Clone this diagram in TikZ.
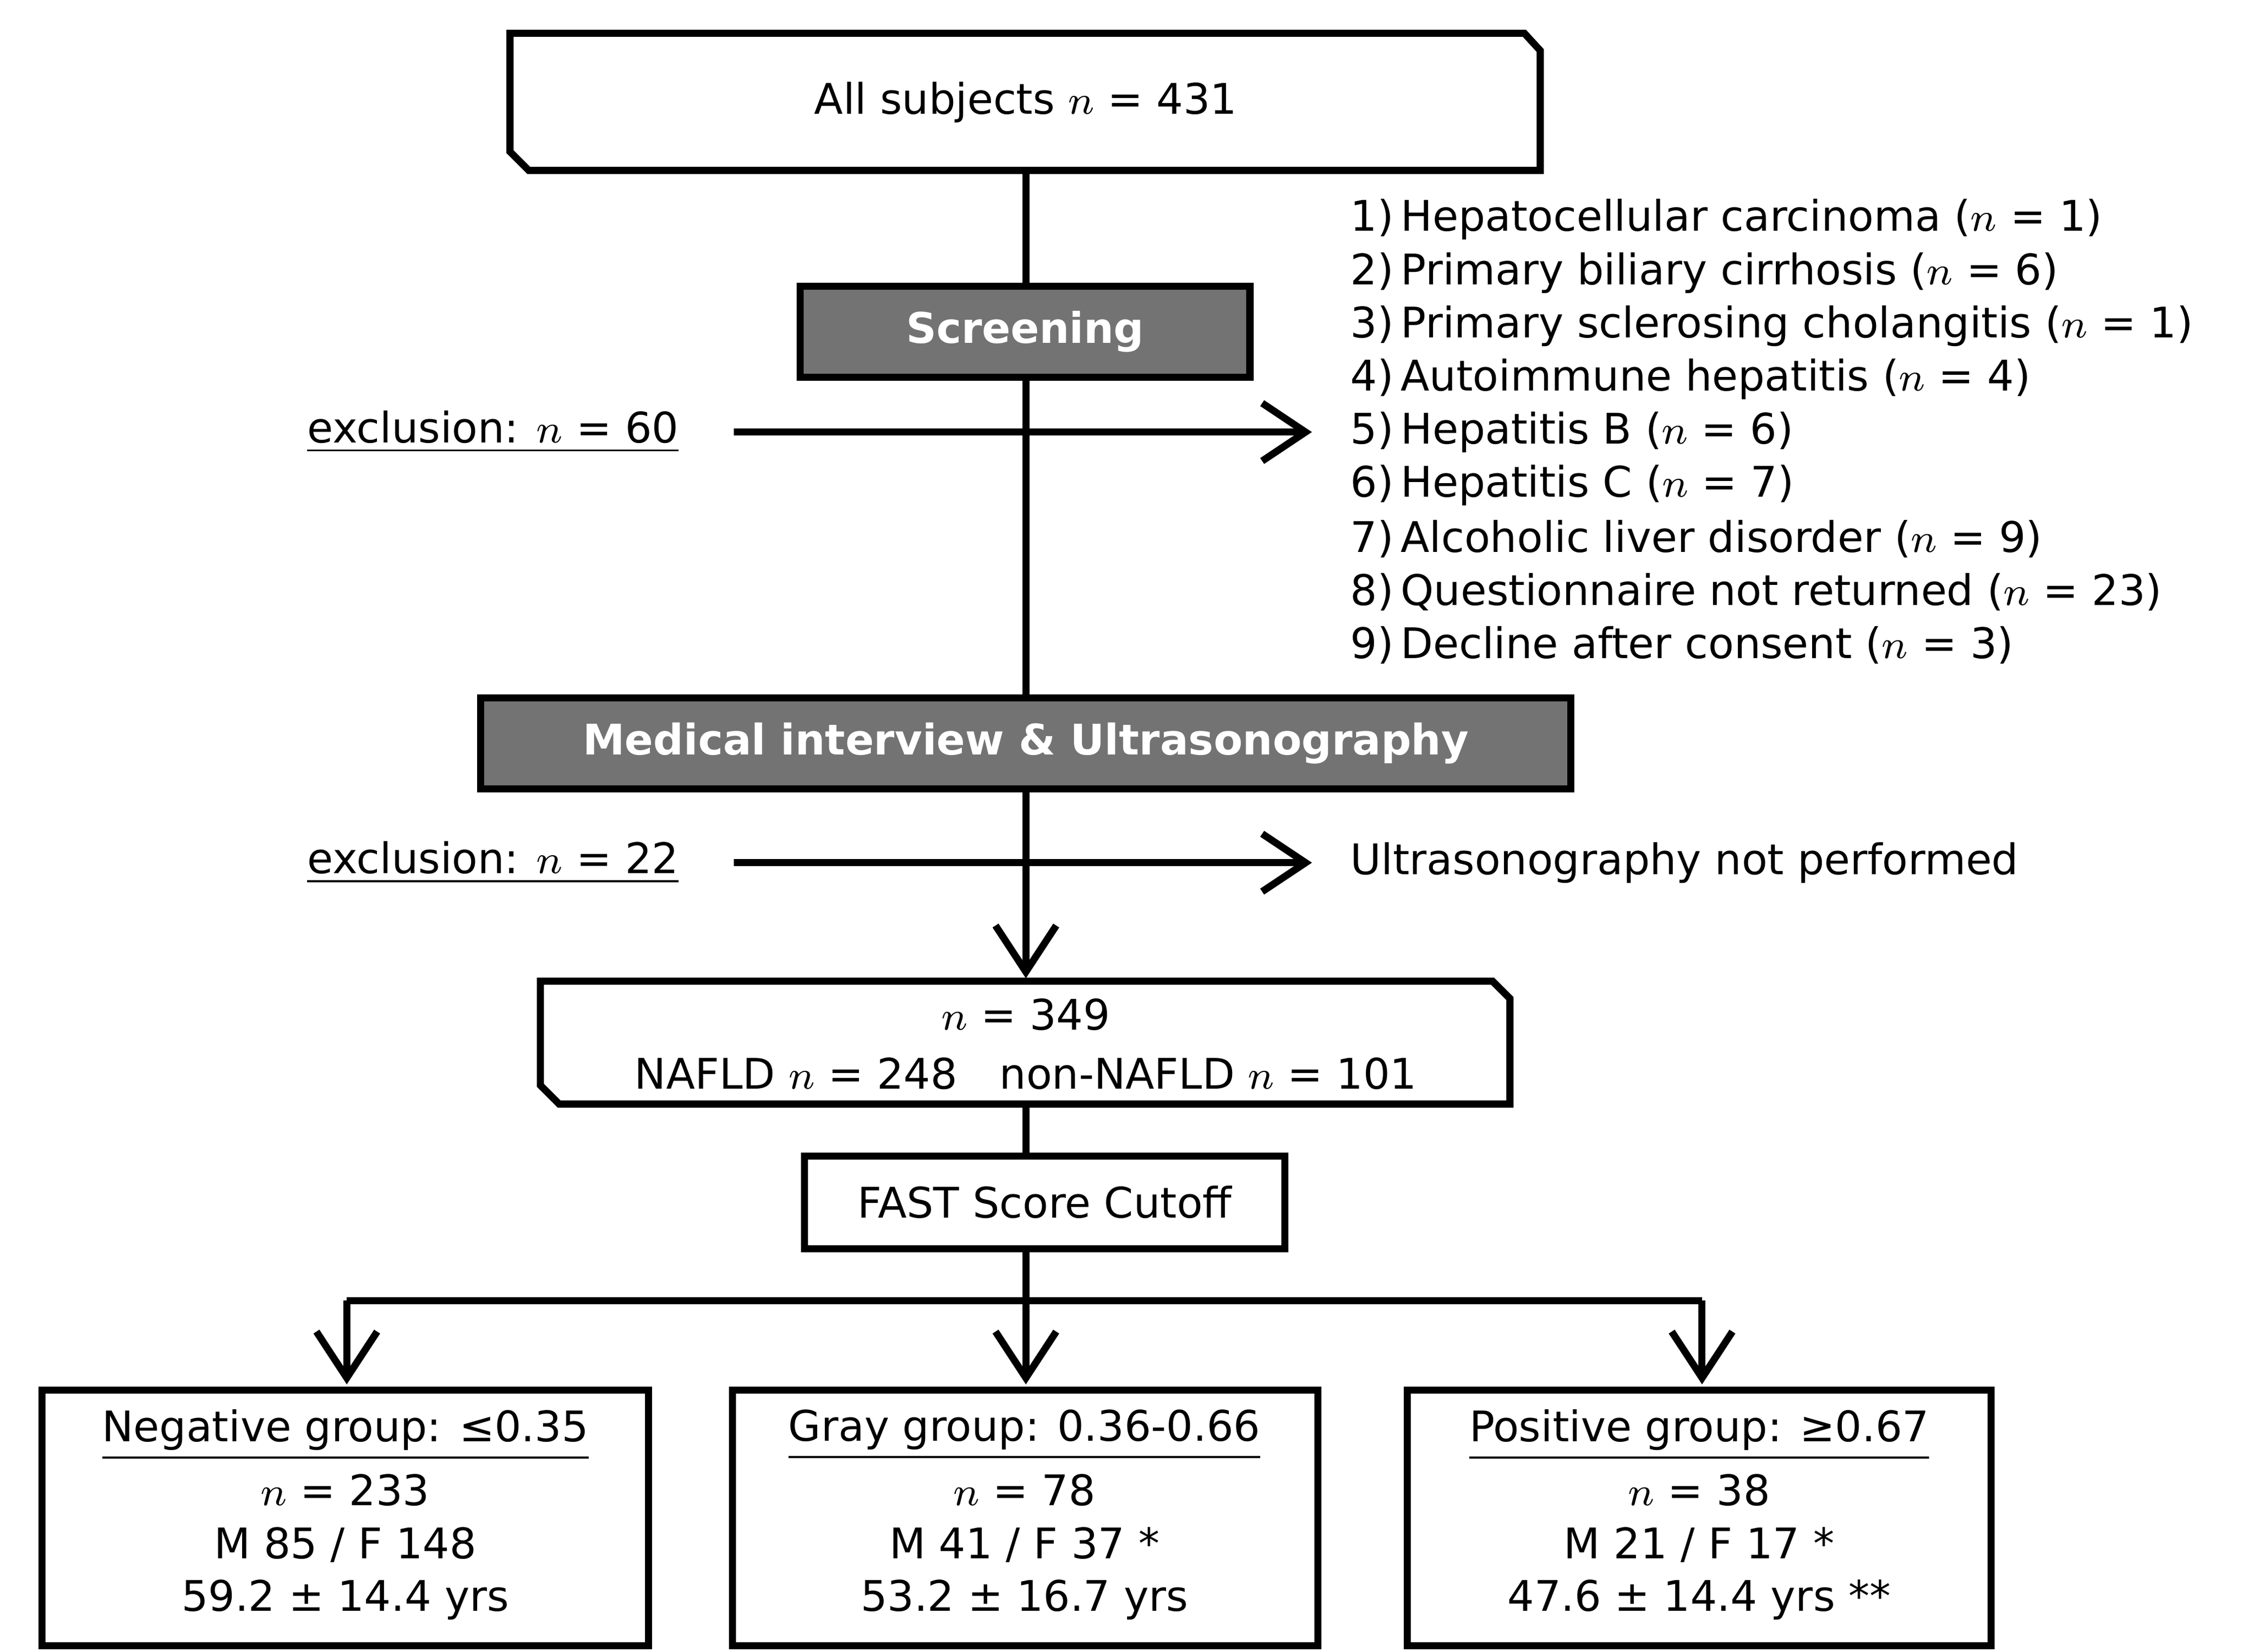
\documentclass[tikz,border=0pt]{standalone}
\usepackage{fontspec}
\setmainfont{DejaVu Sans}
\usetikzlibrary{arrows.meta}
\begin{document}
\begin{tikzpicture}[x=0.01cm,y=-0.01cm,
  every node/.style={font=\fontsize{8.3}{10}\selectfont, inner sep=0pt},
  ln/.style={line width=1.4pt},
  arr/.style={ln,-{Straight Barb[length=0.3cm,width=0.4cm,line width=1.4pt]}},
  darr/.style={ln,-{Straight Barb[length=0.32cm,width=0.42cm,line width=1.4pt]}},
  gbox/.style={draw,line width=1.4pt,fill=black!55,text=white,font=\fontsize{8.3}{10}\selectfont\bfseries},
  wbox/.style={draw,line width=1.4pt,fill=white},
  lst/.style={anchor=west}]
\useasboundingbox (0,0) rectangle (1560,1143);
% top box
\draw[ln,fill=white] (353,23) -- (1055,23) -- (1066,35) -- (1066,118) -- (366,118) -- (353,105) -- cycle;
\node (all) at (710,71) {All subjects $n$ = 431};
\coordinate (t1) at (710,118);
\coordinate (t2) at (710,677);
\draw[ln] (t1) -- (710,483);
\draw[darr] (710,546) -- (t2);
% screening
\node[gbox,minimum width=3.11cm,minimum height=0.63cm] (scr) at (709.5,229.5) {Screening};
% exclusion 1
\node[anchor=west] (ex1) at (212,299) {\underline{exclusion: $n$ = 60}};
\coordinate (e1a) at (508,299); \coordinate (e1b) at (908,299);
\draw[arr] (e1a) -- (e1b);
\foreach \i/\t [count=\k from 0] in {1/Hepatocellular carcinoma ($n$ = 1),2/Primary biliary cirrhosis ($n$ = 6),3/Primary sclerosing cholangitis ($n$ = 1),4/Autoimmune hepatitis ($n$ = 4),5/Hepatitis B ($n$ = 6),6/Hepatitis C ($n$ = 7),7/Alcoholic liver disorder ($n$ = 9),8/Questionnaire not returned ($n$ = 23),9/Decline after consent ($n$ = 3)}
  \node[lst] (l\i) at (934,152+36.8*\k) {\i)\,\t};
% medical
\node[gbox,minimum width=7.54cm,minimum height=0.63cm] (med) at (710,514.5) {Medical interview \& Ultrasonography};
\node[anchor=west] (ex2) at (212,597) {\underline{exclusion: $n$ = 22}};
\coordinate (e2a) at (508,597); \coordinate (e2b) at (908,597);
\draw[arr] (e2a) -- (e2b);
\node[lst] (us) at (934,597) {Ultrasonography not performed};
% n=349 box
\draw[ln,fill=white] (374,679) -- (1033,679) -- (1045,691) -- (1045,764) -- (387,764) -- (374,751) -- cycle;
\node (n349) at (710,702) {$n$ = 349};
\node (naf) at (710,743) {NAFLD $n$ = 248\quad non-NAFLD $n$ = 101};
\coordinate (b1) at (710,764);
\node[wbox,minimum width=3.32cm,minimum height=0.64cm] (fast) at (723,832) {FAST Score Cutoff};
\draw[ln] (b1) -- (fast.north -| b1);
\coordinate (h) at (710,900);
\draw[ln] (fast.south -| h) -- (h);
\draw[ln] (240,900) -- (1178,900);
\coordinate (d1) at (240,958); \coordinate (d2) at (710,958); \coordinate (d3) at (1178,958);
\draw[darr] (240,900) -- (d1);
\draw[darr] (h) -- (d2);
\draw[darr] (1178,900) -- (d3);
% bottom boxes
\draw[ln] (29,962) rectangle (449,1139);
\draw[ln] (507,962) rectangle (912,1139);
\draw[ln] (974,962) rectangle (1378,1139);
\node (g1a) at (239,993) {\underline{Negative group: ≤0.35}};
\node (g1b) at (239,1031) {$n$ = 233};
\node (g1c) at (239,1069) {M 85 / F 148};
\node (g1d) at (239,1107) {59.2 ± 14.4 yrs};
\node (g2a) at (709,993) {\underline{Gray group: 0.36-0.66}};
\node (g2b) at (709,1031) {$n$ = 78};
\node (g2c) at (709,1069) {M 41 / F 37 *};
\node (g2d) at (709,1107) {53.2 ± 16.7 yrs};
\node (g3a) at (1176,993) {\underline{Positive group: ≥0.67}};
\node (g3b) at (1176,1031) {$n$ = 38};
\node (g3c) at (1176,1069) {M 21 / F 17 *};
\node (g3d) at (1176,1107) {47.6 ± 14.4 yrs **};
\end{tikzpicture}
\end{document}
